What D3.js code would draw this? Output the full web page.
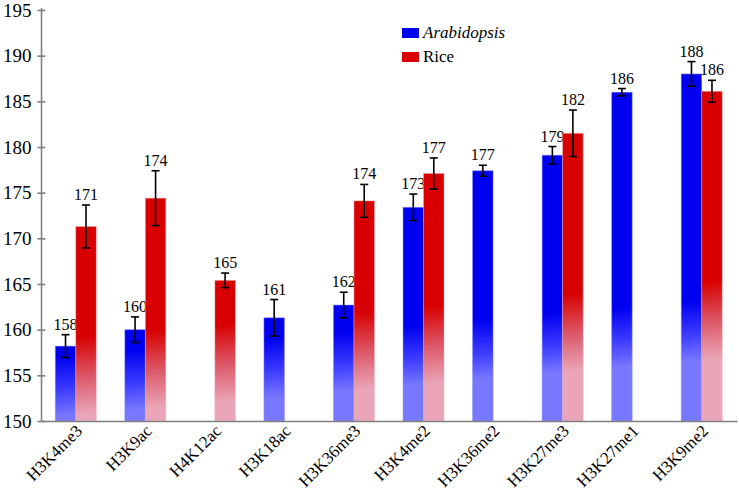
<!DOCTYPE html>
<html>
<head>
<meta charset="utf-8">
<script src="https://cdn.jsdelivr.net/npm/d3@7"></script>
<style>
  html, body { margin: 0; padding: 0; background: #fff; }
  svg { display: block; }
  .lbl { font-family: 'Liberation Serif', 'Times New Roman', serif; }
</style>
</head>
<body>
<svg id="chart" width="739" height="496"></svg>
<script>
// ---- data ----
const categories = ["H3K4me3", "H3K9ac", "H4K12ac", "H3K18ac", "H3K36me3", "H3K4me2", "H3K36me2", "H3K27me3", "H3K27me1", "H3K9me2"];
const seriesNames = ["Arabidopsis", "Rice"];
const arabidopsisValues = [158.2, 160.0, null, 161.3, 162.7, 173.4, 177.4, 179.1, 186.0, 188.0];
const arabidopsisErrors = [1.25, 1.4, null, 2.0, 1.4, 1.45, 0.6, 0.95, 0.4, 1.35];
const arabidopsisLabels = ["158", "160", "", "161", "162", "173", "177", "179", "186", "188"];
const riceValues = [171.3, 174.4, 165.4, null, 174.1, 177.1, null, 181.5, null, 186.1];
const riceErrors = [2.35, 3.0, 0.8, null, 1.8, 1.7, null, 2.55, null, 1.2];
const riceLabels = ["171", "174", "165", "", "174", "177", "", "182", "", "186"];
const yTicks = [150, 155, 160, 165, 170, 175, 180, 185, 190, 195];

// ---- layout ----
const svg = d3.select("#chart");
const mLeft = 41.5, mRight = 737, mTop = 10, mBottom = 421;

const x = d3.scaleBand().domain(categories).range([mLeft, mRight]).paddingInner(0).paddingOuter(0);
const x1 = d3.scaleBand().domain(seriesNames).range([x.bandwidth() / 2 - 21, x.bandwidth() / 2 + 20]);
const y = d3.scaleLinear().domain([150, 195]).range([mBottom, mTop]);

// gradients (fixed in page space, fading toward the baseline)
const defs = svg.append("defs");
function grad(id, stops) {
  const g = defs.append("linearGradient").attr("id", id)
    .attr("gradientUnits", "userSpaceOnUse")
    .attr("x1", 0).attr("y1", y(160)).attr("x2", 8).attr("y2", y(150));
  stops.forEach(([o, c]) => g.append("stop").attr("offset", o).attr("stop-color", c));
}
grad("gA", [[0, "#0000f0"], [0.35, "#0000f0"], [0.7, "#3a3aff"], [1, "#7878ff"]]);
grad("gR", [[0, "#d80000"], [0.15, "#d80000"], [0.6, "#dc5a6a"], [1, "#eaa6b8"]]);

const series = [
  { name: "Arabidopsis", values: arabidopsisValues, errors: arabidopsisErrors, labels: arabidopsisLabels, fill: "url(#gA)", edge: "#8c8cff" },
  { name: "Rice", values: riceValues, errors: riceErrors, labels: riceLabels, fill: "url(#gR)", edge: "#f0b0b8" }
];

// y axis
const yAxis = d3.axisLeft(y).tickValues(yTicks).tickSizeInner(0).tickSizeOuter(0).tickPadding(10);
const gy = svg.append("g").attr("transform", `translate(${mLeft},0)`).call(yAxis);
gy.attr("font-family", null).attr("font-size", null);
gy.select(".domain").attr("stroke", "#808080").attr("stroke-width", 1.6).attr("d", `M0,${mBottom}V${mTop - 2}`);
gy.selectAll(".tick line").remove();
gy.selectAll(".tick").append("line").attr("x1", -4).attr("x2", 4).attr("stroke", "#808080").attr("stroke-width", 1.6);
gy.selectAll(".tick text").attr("class", "lbl").style("font-size", "19px").attr("fill", "#000");

// bars
series.forEach(s => {
  const g = svg.append("g");
  categories.forEach((c, i) => {
    const v = s.values[i];
    if (v == null) return;
    const bx = x(c) + x1(s.name);
    const bw = x1.bandwidth();
    g.append("rect")
      .attr("x", bx).attr("y", y(v))
      .attr("width", bw).attr("height", y(150) - y(v))
      .attr("fill", s.fill)
      .attr("stroke", s.edge).attr("stroke-width", 0.8).attr("stroke-opacity", 0.6);
    const e = s.errors[i];
    const cx = bx + bw / 2;
    const eg = g.append("g").attr("stroke", "#000").attr("stroke-width", 1.6);
    eg.append("line").attr("x1", cx).attr("x2", cx).attr("y1", y(v + e)).attr("y2", y(v - e));
    eg.append("line").attr("x1", cx - 4).attr("x2", cx + 4).attr("y1", y(v + e)).attr("y2", y(v + e));
    eg.append("line").attr("x1", cx - 4).attr("x2", cx + 4).attr("y1", y(v - e)).attr("y2", y(v - e));
    g.append("text")
      .attr("class", "lbl")
      .attr("x", cx).attr("y", y(v + e) - 5)
      .attr("text-anchor", "middle")
      .style("font-size", "16px")
      .attr("fill", "#000")
      .text(s.labels[i]);
  });
});

// x axis
const xAxis = d3.axisBottom(x).tickSize(0).tickSizeOuter(0);
const gx = svg.append("g").attr("transform", `translate(0,${mBottom})`).call(xAxis);
gx.attr("font-family", null).attr("font-size", null);
gx.select(".domain").attr("stroke", "#808080").attr("stroke-width", 1.6);
gx.selectAll(".tick text")
  .attr("class", "lbl")
  .style("font-size", "17px")
  .attr("fill", "#000")
  .attr("text-anchor", "end")
  .attr("x", 0).attr("y", 0).attr("dy", null)
  .attr("transform", "translate(7,11) rotate(-45)");

// legend
const legend = svg.append("g").attr("transform", "translate(402,28)");
series.forEach((s, i) => {
  const row = legend.append("g").attr("transform", `translate(0,${i * 24})`);
  row.append("rect").attr("width", 17).attr("height", 10).attr("fill", i === 0 ? "#0000f0" : "#d80000");
  row.append("text").attr("class", "lbl").attr("x", 21).attr("y", 9.5)
    .style("font-size", "17px").attr("fill", "#000")
    .style("font-style", i === 0 ? "italic" : "normal")
    .text(s.name);
});
</script>
</body>
</html>
